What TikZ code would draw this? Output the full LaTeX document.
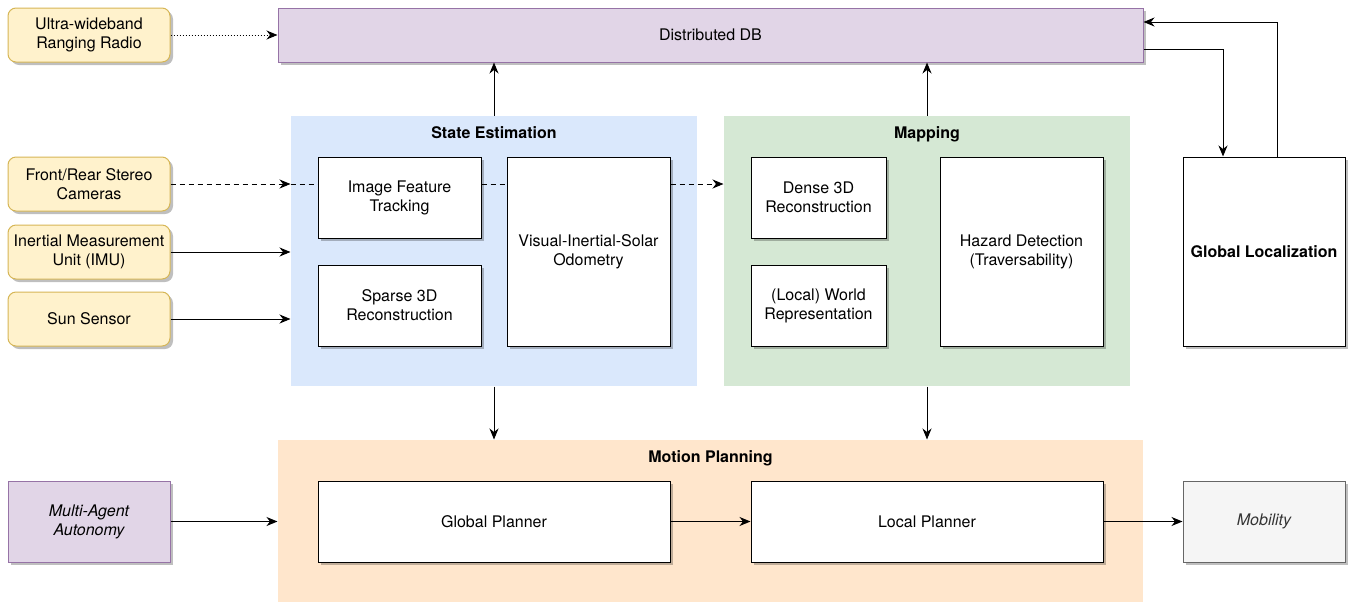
\documentclass[tikz,border=0pt]{standalone}
\usepackage{fontspec}
\setmainfont{TeX Gyre Heros}
\usetikzlibrary{arrows.meta,positioning,shadows}

\definecolor{sensorfill}{HTML}{FFF2CC}
\definecolor{sensordraw}{HTML}{D6B656}
\definecolor{dbfill}{HTML}{E1D5E7}
\definecolor{dbdraw}{HTML}{9673A6}
\definecolor{sefill}{HTML}{DAE8FC}
\definecolor{mapfill}{HTML}{D5E8D4}
\definecolor{mpfill}{HTML}{FFE6CC}
\definecolor{mobfill}{HTML}{F5F5F5}
\definecolor{mobdraw}{HTML}{666666}
\definecolor{mobtext}{HTML}{333333}

\begin{document}
\begin{tikzpicture}[x=1pt, y=-1pt, ->, >={Stealth[length=11pt,width=9pt,inset=3.5pt]}, line width=1pt, font=\fontsize{16}{19}\selectfont]
        \tikzstyle{shadowed}=[drop shadow={shadow xshift=3pt, shadow yshift=-3pt, fill=black, opacity=0.25}]
        \tikzstyle{box}=[draw=black, fill=white, align=center, inner sep=2pt, shadowed]
        \tikzstyle{sensor}=[box, draw=sensordraw, fill=sensorfill, rounded corners=8pt, minimum width=162pt, minimum height=54pt]
        \tikzstyle{agent}=[box, draw=dbdraw, fill=dbfill]
        \tikzstyle{group}=[fill=#1, draw=none, inner sep=0pt]
        \tikzstyle{grouptitle}=[font=\fontsize{16}{19}\selectfont\bfseries, inner sep=0pt]
        \tikzstyle{dashedline}=[dash pattern=on 5pt off 4pt]

        \useasboundingbox (0,0) rectangle (1351,603);

        % groups
        \node[group=sefill, minimum width=406pt, minimum height=270pt]  (se)  at (494,251)   {};
        \node[group=mapfill, minimum width=406pt, minimum height=270pt] (map) at (927,251)   {};
        \node[group=mpfill, minimum width=865pt, minimum height=162pt]  (mp)  at (710.5,521) {};
        \node[grouptitle] (setitle)  [below=11pt of se.north]  {State Estimation};
        \node[grouptitle] (maptitle) [below=11pt of map.north] {Mapping};
        \node[grouptitle] (mptitle)  [below=11pt of mp.north]  {Motion Planning};

        % inputs
        \node[sensor]   (uwb) at (89,35)   {Ultra-wideband\\Ranging Radio};
        \node[sensor]   (cam) at (89,184)  {Front/Rear Stereo\\Cameras};
        \node[sensor]   (imu) at (89,252)  {Inertial Measurement\\Unit (IMU)};
        \node[sensor]   (sun) at (89,319)  {Sun Sensor};
        \node[agent, minimum width=162pt, minimum height=81pt] (maa) at (89,521.5) {\itshape Multi-Agent\\\itshape Autonomy};
        \node[agent, minimum width=865pt, minimum height=54pt] (db)  at (710.5,35) {Distributed DB};

        % state estimation
        \node[box, minimum width=163pt, minimum height=81pt]  (ift)    at (399.5,197.5) {Image Feature\\Tracking};
        \node[box, minimum width=163pt, minimum height=81pt]  (sparse) at (399.5,305.5) {Sparse 3D\\Reconstruction};
        \node[box, minimum width=163pt, minimum height=189pt] (viso)   at (588.5,251.5) {Visual-Inertial-Solar\\Odometry};

        % mapping
        \node[box, minimum width=135pt, minimum height=81pt]  (dense)  at (818.5,197.5)  {Dense 3D\\Reconstruction};
        \node[box, minimum width=135pt, minimum height=81pt]  (world)  at (818.5,305.5)  {(Local) World\\Representation};
        \node[box, minimum width=163pt, minimum height=189pt] (hazard) at (1021.5,251.5) {Hazard Detection\\(Traversability)};

        \node[box, minimum width=162pt, minimum height=189pt, font=\fontsize{16}{19}\selectfont\bfseries] (gloc) at (1264,251.5) {Global Localization};

        % motion planning
        \node[box, minimum width=352pt, minimum height=81pt] (gp)  at (494,521.5) {Global Planner};
        \node[box, minimum width=352pt, minimum height=81pt] (lp)  at (927,521.5) {Local Planner};
        \node[box, draw=mobdraw, fill=mobfill, text=mobtext, minimum width=162pt, minimum height=81pt] (mob) at (1264,521.5) {\itshape Mobility};

        \path
            (uwb) edge[dotted]  (uwb -| db.west)
            (cam) edge[dashedline]  (cam -| se.west)
            (cam -| se.west) edge[dashedline, -] (cam -| ift.west)
            (cam -| ift.east) edge[dashedline, -] (cam -| viso.west)
            (cam -| viso.east) edge[dashedline] (cam -| map.west)
            (imu) edge          (imu -| se.west)
            (sun) edge          (sun -| se.west)
            (se.north)  edge    (se.north |- db.south)
            (map.north) edge    (map.north |- db.south)
            (se.south)  edge    (se.south |- mp.north)
            (map.south) edge    (map.south |- mp.north)
            (maa) edge          (maa -| mp.west)
            (gp)  edge          (lp)
            (lp)  edge          (mob)
        ;
        \draw ([yshift=-14pt]db.east) -| ([xshift=-41pt]gloc.north);
        \draw ([xshift=13pt]gloc.north) |- ([yshift=13pt]db.east);
    \end{tikzpicture}
\end{document}
